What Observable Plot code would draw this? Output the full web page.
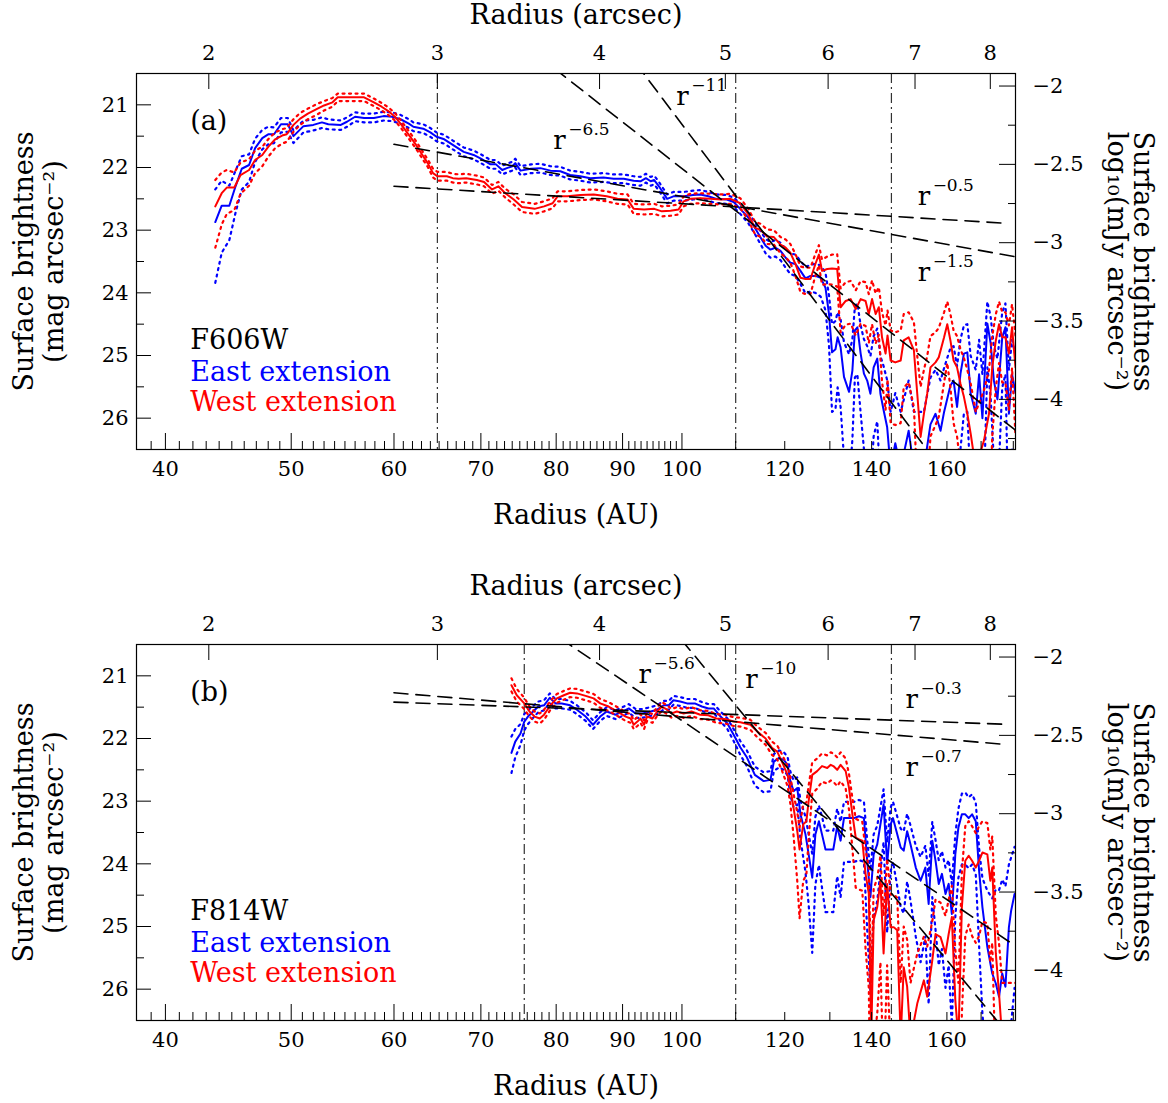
<!DOCTYPE html>
<html><head><meta charset="utf-8">
<script src="https://cdn.jsdelivr.net/npm/d3@7"></script>
<script src="https://cdn.jsdelivr.net/npm/@observablehq/plot@0.6"></script>
<style>
html,body{margin:0;padding:0;background:#fff;overflow:hidden;}
#chart{width:1168px;}
#chart svg{display:block;}
</style></head><body><div id="chart"></div>
<script>
// ---------- constants / tick values ----------
const distancePc = 21.6;          // AU per arcsec
const zeroPointMag = 15.70;       // mag at log10(mJy/arcsec^2) = 0
const xDomainAU = [38, 180.7];
const yDomainMag = [20.5, 26.5];
const auTickLabels = [40, 50, 60, 70, 80, 90, 100, 120, 140, 160];
const auMajorTicks = [40, 50, 60, 70, 80, 90, 100];
const arcsecTicks = [2, 3, 4, 5, 6, 7, 8];
const magTicks = [21, 22, 23, 24, 25, 26];
const magMinorTicks = [21.5, 22.5, 23.5, 24.5, 25.5];
const fluxTicks = [-2, -2.5, -3, -3.5, -4];
const fluxMinorTicks = [-2.25, -2.75, -3.25, -3.75, -4.25];

// ---------- data: [radius AU, mag, upper-dotted offset, lower-dotted offset] ----------
const eastA = [
[43.7,22.87,.52,.97],[44.2,22.61,.40,.75],[44.8,22.61,.32,.55],[45.3,22.30,.25,.42],[45.8,22.02,.20,.33],
[46.4,21.96,.17,.27],[46.9,21.69,.15,.22],[47.5,21.53,.13,.18],[48.0,21.47,.12,.16],[48.5,21.47,.11,.14],
[49.1,21.31,.10,.13],[49.7,21.31,.10,.12],[50.2,21.50,.09,.11],[51.1,21.34,.09,.10],[52.0,21.32,.08,.09],
[52.8,21.28,.08,.09],[53.4,21.31,.08,.08],[54.6,21.32,.07,.08],[55.2,21.27,.07,.08],[56.0,21.19,.07,.07],
[56.9,21.21,.07,.07],[57.9,21.21,.07,.07],[58.9,21.18,.07,.07],[59.8,21.19,.07,.07],[60.7,21.23,.07,.07],
[61.6,21.30,.07,.07],[62.1,21.35,.07,.07],[63.2,21.38,.07,.07],[64.0,21.44,.07,.07],[64.7,21.51,.07,.07],
[65.6,21.55,.07,.07],[66.6,21.64,.07,.07],[67.9,21.75,.07,.07],[69.1,21.80,.07,.07],[70.0,21.86,.07,.07],
[71.2,21.95,.07,.07],[71.9,21.95,.07,.07],[72.7,22.04,.07,.07],[73.3,22.01,.07,.07],[74.0,21.98,.07,.07],
[74.4,21.93,.07,.07],[75.1,22.05,.07,.07],[76.5,22.02,.07,.07],[77.8,22.01,.07,.07],[79.2,22.05,.07,.07],
[80.6,22.06,.07,.07],[82.0,22.12,.07,.07],[83.5,22.14,.07,.07],[85.0,22.17,.07,.07],[87.0,22.16,.07,.07],
[88.6,22.18,.07,.07],[90.2,22.18,.07,.07],[91.8,22.21,.07,.07],[92.9,22.22,.07,.07],[93.8,22.17,.07,.07],
[94.6,22.22,.07,.07],[95.2,22.20,.07,.07],[96.0,22.30,.07,.07],[97.4,22.50,.07,.07],[98.5,22.46,.07,.07],
[100.3,22.46,.07,.07],[102.0,22.44,.07,.07],[103.3,22.43,.07,.07],[104.8,22.46,.07,.07],[106.3,22.50,.07,.07],
[108.3,22.51,.07,.07],[109.6,22.55,.07,.08],[110.9,22.66,.08,.08],[112.5,22.80,.08,.09],[113.8,22.96,.09,.10],
[115.0,23.12,.10,.11],[116.0,23.25,.11,.12],[117.0,23.31,.12,.13],[118.0,23.28,.12,.14],[119.1,23.33,.13,.15],
[120.2,23.44,.14,.16],[121.2,23.52,.15,.18],[122.3,23.54,.15,.19],[123.4,23.65,.16,.21],[124.5,23.77,.18,.24],
[125.6,23.73,.18,.25],[126.7,23.73,.19,.27],[127.9,23.76,.20,.30],[129.0,23.92,.24,.36],[129.8,24.34,.30,.50],
[130.5,24.95,.45,.95],[131.3,24.90,.45,.95],[131.8,24.71,.40,.80],[132.5,24.87,.45,.95],[133.3,25.34,.55,1.3],
[134.5,25.58,.60,1.5],[135.3,25.24,.50,1.1],[135.9,24.60,.38,.75],[136.5,24.55,.38,.75],[137.3,24.97,.45,.95],
[138.1,25.29,.55,1.2],[138.9,25.40,.55,1.3],[139.7,25.61,.60,1.5],[140.5,25.19,.50,1.1],[141.4,25.05,.48,1.0],
[142.2,25.61,.60,1.5],[143.0,25.87,.70,2],[143.9,26.14,.75,2],[144.8,26.80,.90,2],[146.0,26.40,.80,2],
[147.4,26.80,.90,2],[149.5,26.20,.80,2],[150.9,26.80,.90,2],[153.6,26.80,.90,2],[155.4,26.10,.75,2],
[156.8,25.93,.70,2],[158.2,26.20,.80,2],[159.2,25.90,.70,2],[161.0,25.48,.60,1.4],[161.9,25.40,.55,1.3],
[162.9,25.82,.65,2],[163.9,25.29,.55,1.2],[164.9,24.97,.45,.95],[165.9,24.95,.45,.95],[166.9,25.61,.60,1.5],
[168.4,25.93,.70,2],[169.4,25.30,.55,1.2],[170.4,26.00,.70,2],[171.9,24.49,.35,.70],[172.9,24.80,.42,.85],
[173.9,25.40,.55,1.3],[175.0,25.70,.65,1.6],[176.5,24.71,.40,.80],[177.5,24.55,.38,.75],[178.6,25.93,.70,2],
[179.6,25.30,.55,1.2],[180.7,25.60,.60,1.5]
];
const westA = [
[43.7,22.62,.42,.66],[44.2,22.41,.33,.50],[44.6,22.32,.28,.42],[45.2,22.32,.24,.36],[45.7,22.12,.20,.30],
[46.4,22.04,.17,.25],[46.9,21.88,.15,.21],[47.5,21.80,.13,.18],[48.0,21.67,.12,.16],[48.6,21.55,.11,.14],
[49.2,21.49,.10,.13],[49.6,21.47,.10,.12],[50.2,21.32,.09,.11],[50.8,21.22,.09,.10],[51.5,21.14,.08,.09],
[52.3,21.07,.08,.09],[53.0,21.01,.07,.08],[53.8,20.96,.07,.07],[54.3,20.88,.06,.06],[55.7,20.88,.06,.06],
[56.9,20.88,.06,.06],[57.9,20.96,.06,.06],[58.7,21.03,.06,.06],[59.4,21.10,.06,.06],[60.1,21.19,.06,.06],
[60.8,21.32,.06,.06],[61.6,21.48,.06,.06],[62.4,21.64,.06,.06],[63.1,21.80,.06,.06],[63.7,21.93,.06,.06],
[64.3,22.09,.07,.07],[64.8,22.14,.07,.07],[65.9,22.14,.07,.07],[66.6,22.17,.07,.07],[67.3,22.18,.07,.07],
[68.2,22.17,.07,.07],[69.5,22.20,.07,.07],[70.4,22.23,.07,.07],[71.4,22.35,.07,.07],[72.2,22.30,.07,.07],
[73.1,22.41,.07,.07],[74.2,22.51,.08,.08],[75.3,22.63,.08,.08],[77.0,22.66,.08,.08],[78.3,22.62,.08,.08],
[79.5,22.57,.08,.08],[80.2,22.46,.08,.08],[81.6,22.46,.08,.08],[83.5,22.44,.08,.08],[85.5,22.43,.08,.08],
[87.5,22.46,.08,.08],[89.2,22.50,.08,.08],[90.8,22.51,.08,.08],[91.8,22.66,.08,.08],[93.5,22.67,.08,.08],
[95.2,22.66,.08,.08],[96.5,22.70,.08,.08],[98.0,22.69,.08,.08],[99.4,22.67,.08,.08],[100.3,22.54,.08,.08],
[101.5,22.50,.08,.08],[103.3,22.49,.08,.08],[105.2,22.50,.08,.08],[107.1,22.51,.08,.08],[109.0,22.50,.08,.08],
[110.9,22.57,.08,.08],[112.5,22.75,.09,.09],[113.8,22.96,.10,.10],[115.0,23.00,.10,.11],[116.3,23.10,.11,.12],
[117.7,23.11,.11,.12],[119.1,23.23,.12,.14],[120.2,23.28,.13,.15],[121.2,23.36,.14,.16],[122.3,23.54,.16,.19],
[123.4,23.76,.18,.23],[124.5,23.78,.18,.24],[125.6,23.78,.18,.24],[126.7,23.54,.16,.19],[127.5,23.39,.15,.17],
[128.2,23.65,.18,.22],[129.4,23.62,.20,.24],[130.5,23.61,.22,.26],[131.7,23.62,.24,.28],[132.5,24.23,.30,.40],
[133.7,24.13,.30,.38],[134.9,24.10,.29,.39],[136.1,24.26,.30,.42],[137.3,24.10,.29,.39],[138.5,24.13,.30,.40],
[139.3,24.34,.32,.46],[140.1,24.10,.30,.40],[141.0,24.34,.33,.47],[141.8,24.23,.32,.44],[142.6,24.71,.40,.70],
[143.5,24.97,.45,.90],[144.0,24.68,.40,.70],[144.8,25.08,.48,1.0],[146.0,25.11,.48,1.0],[147.4,25.08,.48,1.0],
[148.2,24.76,.42,.75],[149.5,24.71,.40,.72],[150.9,24.92,.45,.90],[151.8,25.61,.60,1.5],[152.7,26.30,.80,2],
[153.6,25.93,.70,2],[154.5,25.61,.60,1.5],[155.4,25.19,.50,1.1],[156.8,25.11,.48,1.0],[157.7,25.03,.47,.95],
[159.2,24.71,.40,.72],[160.1,24.50,.36,.62],[161.0,24.76,.42,.75],[161.9,25.08,.48,1.0],[162.9,25.19,.50,1.1],
[163.9,25.45,.55,1.3],[164.9,25.66,.62,1.6],[165.9,25.93,.70,2],[166.9,26.25,.80,2],[168.4,26.80,.90,2],
[170.9,26.35,.80,2],[172.4,25.93,.70,2],[173.4,25.19,.50,1.1],[174.5,24.76,.42,.75],[175.5,24.50,.36,.62],
[176.5,24.71,.40,.72],[177.5,24.71,.40,.72],[178.6,24.97,.45,.90],[179.6,24.55,.37,.65],[180.7,25.19,.50,1.1]
];
const eastB = [
[73.9,22.23,.26,.32],[74.4,22.05,.20,.25],[75.1,21.92,.15,.18],[75.6,21.73,.12,.14],[76.1,21.65,.10,.12],
[76.8,21.57,.09,.10],[77.5,21.49,.08,.09],[78.3,21.47,.08,.08],[79.1,21.35,.07,.08],[79.9,21.44,.07,.08],
[80.8,21.44,.07,.08],[82.0,21.47,.07,.07],[83.0,21.54,.07,.07],[84.3,21.65,.07,.07],[85.4,21.78,.07,.07],
[86.5,21.65,.07,.07],[87.5,21.57,.07,.07],[88.9,21.62,.07,.07],[90.0,21.57,.07,.07],[91.0,21.52,.07,.07],
[92.1,21.60,.07,.07],[93.2,21.60,.07,.07],[94.6,21.57,.07,.07],[95.7,21.54,.07,.07],[96.8,21.47,.07,.07],
[97.7,21.47,.07,.07],[98.5,21.39,.07,.07],[99.7,21.41,.07,.07],[100.9,21.44,.07,.07],[102.3,21.44,.07,.07],
[103.6,21.49,.07,.07],[104.8,21.52,.07,.07],[105.8,21.52,.07,.07],[107.1,21.65,.08,.08],[108.4,21.76,.08,.09],
[109.6,21.94,.09,.10],[110.9,22.14,.10,.12],[112.2,22.30,.11,.14],[113.8,22.58,.13,.17],[115.6,22.68,.14,.18],
[117.0,22.66,.14,.18],[117.7,22.37,.12,.15],[118.8,22.31,.12,.15],[119.8,22.34,.12,.16],[120.6,22.42,.13,.17],
[121.2,22.68,.15,.22],[121.9,22.84,.17,.26],[122.7,22.79,.17,.26],[123.4,23.21,.22,.40],[124.5,23.53,.28,.60],
[125.2,23.85,.32,.80],[126.0,24.22,.38,1.2],[126.7,23.53,.28,.80],[127.5,23.32,.25,.70],[128.2,23.53,.28,.85],
[129.0,23.77,.30,1.0],[129.8,23.77,.30,1.0],[130.8,23.77,.30,1.0],[131.7,23.40,.28,.80],[132.5,23.63,.30,.90],
[133.3,23.27,.26,.70],[134.5,23.27,.26,.70],[135.7,23.27,.26,.70],[136.9,23.24,.26,.70],[138.1,23.27,.26,.70],
[138.9,23.95,.33,1.1],[139.7,24.53,.42,1.5],[140.5,23.85,.32,1.0],[141.4,23.69,.30,.90],[142.2,23.37,.27,.75],
[143.0,23.05,.24,.60],[143.9,24.00,.34,1.1],[144.8,23.37,.27,.75],[145.4,23.27,.26,.70],[146.3,23.48,.28,.80],
[147.4,23.74,.30,.95],[148.2,23.79,.31,1.0],[149.1,23.48,.28,.80],[150.0,23.69,.30,.90],[151.4,24.06,.35,1.1],
[152.7,24.27,.38,1.3],[154.0,24.06,.35,1.1],[154.9,24.64,.45,1.6],[155.9,23.63,.30,.90],[156.8,23.95,.33,1.1],
[157.7,24.32,.38,1.3],[158.6,24.16,.36,1.2],[159.6,24.48,.42,1.5],[160.5,24.32,.38,1.3],[161.4,24.80,.48,1.8],
[162.4,23.85,.32,1.0],[163.3,23.42,.30,.80],[164.3,23.21,.33,.80],[165.3,23.21,.35,.80],[166.3,23.27,.33,.80],
[167.3,23.21,.32,.80],[168.4,23.32,.30,.85],[169.4,24.11,.36,1.2],[170.4,24.69,.46,1.7],[171.9,25.33,.90,2],
[173.4,25.75,1.2,2],[174.5,25.91,1.5,2],[175.5,26.12,1.7,2],[176.5,25.75,1.5,2],[177.5,25.96,1.6,2],
[178.6,25.01,1.0,2],[179.3,24.75,.85,1.8],[180.4,24.48,.75,1.5]
];
const westB = [
[73.9,21.15,.11,.10],[74.6,21.31,.10,.10],[75.6,21.44,.09,.09],[76.3,21.57,.08,.08],[77.0,21.65,.08,.08],
[77.7,21.68,.08,.08],[78.3,21.62,.08,.08],[79.2,21.47,.07,.07],[80.1,21.36,.07,.07],[81.1,21.31,.07,.07],
[82.0,21.27,.07,.07],[83.0,21.28,.07,.07],[84.3,21.32,.07,.07],[85.5,21.36,.07,.07],[86.5,21.44,.07,.07],
[87.8,21.49,.07,.07],[89.2,21.57,.07,.07],[90.5,21.65,.07,.07],[91.3,21.68,.07,.07],[91.8,21.78,.07,.07],
[92.4,21.73,.07,.07],[92.9,21.68,.07,.07],[93.5,21.78,.07,.07],[94.0,21.65,.07,.07],[94.9,21.68,.07,.07],
[95.7,21.57,.07,.07],[96.5,21.49,.07,.07],[97.4,21.54,.07,.07],[98.2,21.60,.07,.07],[99.1,21.57,.07,.07],
[100.3,21.60,.07,.07],[101.7,21.57,.07,.07],[103.3,21.62,.07,.07],[104.8,21.63,.07,.07],[106.3,21.68,.07,.07],
[107.9,21.69,.07,.07],[109.6,21.73,.07,.07],[110.9,21.74,.07,.07],[112.9,21.78,.08,.08],[114.3,21.89,.08,.09],
[116.0,22.00,.09,.10],[117.3,22.15,.10,.11],[118.4,22.21,.10,.12],[119.4,22.37,.12,.14],[120.6,22.58,.14,.18],
[121.2,22.79,.17,.25],[121.9,23.11,.22,.45],[122.7,23.48,.30,.80],[123.2,23.77,.35,1.1],[124.0,23.37,.32,.90],
[124.7,23.32,.30,.85],[125.2,23.00,.25,.60],[126.0,22.58,.20,.30],[127.1,22.52,.20,.28],[128.2,22.44,.20,.25],
[129.4,22.47,.20,.25],[130.2,22.42,.20,.25],[130.8,22.44,.20,.25],[131.7,22.50,.20,.26],[132.5,22.42,.20,.26],
[133.7,22.52,.20,.28],[134.5,22.79,.22,.35],[135.3,23.21,.26,.55],[136.1,23.58,.30,.80],[136.9,23.61,.30,.80],
[137.7,23.63,.30,.80],[138.5,24.16,.38,1.2],[139.3,24.48,.42,1.5],[139.9,26.80,.90,2],[140.5,24.90,.50,2],
[141.4,24.69,.46,1.7],[142.2,24.27,.40,1.3],[143.0,25.43,.60,2],[143.9,24.32,.40,1.3],[144.8,25.01,.52,2],
[145.6,25.01,.52,2],[146.5,25.06,.52,2],[147.4,26.80,.90,2],[148.2,25.65,.65,2],[149.1,25.96,.75,2],
[150.0,26.80,.90,2],[151.8,26.23,.80,2],[153.6,25.86,.70,2],[154.5,26.12,.80,2],[155.9,25.54,.62,2],
[156.8,25.12,.55,2],[158.2,25.17,.55,2],[159.6,25.43,.60,2],[160.5,25.12,.55,2],[161.4,24.85,.50,1.8],
[162.4,26.17,.80,2],[163.3,26.80,.90,2],[164.3,24.69,.55,1.7],[165.3,23.95,.55,1.2],[166.3,23.87,.55,1.1],
[167.3,23.95,.55,1.2],[168.4,24.06,.55,1.2],[169.4,23.95,.55,1.2],[170.4,23.82,.50,1.1],[171.9,23.85,.50,1.1],
[172.8,24.27,.50,1.3],[173.4,24.06,.50,1.2],[174.5,25.43,.60,2],[175.5,26.07,.80,2],[176.5,26.80,.90,2],
[178.0,26.80,.90,2],[180.7,26.80,.90,2]
];

// power-law fits: mag = m0 + 2.5*alpha*log10(r/r0), drawn from rFrom to rTo
const powerLawsA = [
  {alpha: 0.5, r0: 60,  m0: 22.30, rFrom: 60, rTo: 178},
  {alpha: 1.5, r0: 60,  m0: 21.63, rFrom: 60, rTo: 181},
  {alpha: 6.5, r0: 110, m0: 22.69, rFrom: 75, rTo: 181},
  {alpha: 11,  r0: 110, m0: 22.45, rFrom: 90, rTo: 181}
];
const powerLawsB = [
  {alpha: 0.3, r0: 60,    m0: 21.42, rFrom: 60, rTo: 178},
  {alpha: 0.7, r0: 60,    m0: 21.27, rFrom: 60, rTo: 177.5},
  {alpha: 5.6, r0: 110.3, m0: 22.31, rFrom: 78, rTo: 181},
  {alpha: 10,  r0: 110,   m0: 21.47, rFrom: 95, rTo: 181}
];
// power-law annotation anchors (AU, mag)
const expLabelsA = [
  {r: 79.6, m: 21.71, exp: "−6.5"}, {r: 99.0, m: 21.00, exp: "−11"},
  {r: 151.9, m: 22.60, exp: "−0.5"}, {r: 151.9, m: 23.81, exp: "−1.5"}
];
const expLabelsB = [
  {r: 92.6, m: 21.12, exp: "−5.6"}, {r: 111.9, m: 21.20, exp: "−10"},
  {r: 148.7, m: 21.51, exp: "−0.3"}, {r: 148.7, m: 22.60, exp: "−0.7"}
];
const vLinesA = [64.8, 110, 145];
const vLinesB = [75.6, 110, 145];
const legendA = ["(a)", "F606W", "East extension", "West extension"];
const legendB = ["(b)", "F814W", "East extension", "West extension"];

// ---------- drawing ----------
const BLUE = "#0000ff", RED = "#ff0000";
const FONT = "'DejaVu Serif', serif";
const minorAU = d3.range(38, 100).filter(v => v % 10 !== 0).concat(d3.range(110, 181, 10));
const fmtFlux = v => { const a = Math.round(Math.abs(v) * 100) / 100; return (v < 0 ? "−" : "") + a; };
const fluxToMag = L => zeroPointMag - 2.5 * L;

function rowsOf(arr) { return arr.map(([r, m, u, d]) => ({r, m, up: m - u, dn: m + d})); }
function lawRows(p) {
  return [p.rFrom, p.rTo].map(r => ({r, m: p.m0 + 2.5 * p.alpha * Math.log10(r / p.r0)}));
}

function panel({east, west, laws, labels, vlines, legend, height, marginBottom}) {
  const E = rowsOf(east), W = rowsOf(west);
  const marks = [];
  marks.push(Plot.ruleX(vlines, {stroke: "#333", strokeWidth: 1.2, strokeDasharray: "10,4,2,4"}));
  for (const [R, c] of [[E, BLUE], [W, RED]]) {
    marks.push(Plot.line(R, {x: "r", y: "up", stroke: c, strokeWidth: 2.2, strokeDasharray: "2,4.5", clip: true}));
    marks.push(Plot.line(R, {x: "r", y: "dn", stroke: c, strokeWidth: 2.2, strokeDasharray: "2,4.5", clip: true}));
    marks.push(Plot.line(R, {x: "r", y: "m", stroke: c, strokeWidth: 2, clip: true}));
  }
  for (const p of laws) {
    marks.push(Plot.line(lawRows(p), {x: "r", y: "m", stroke: "black", strokeWidth: 1.6, strokeDasharray: "14,8", clip: true}));
  }
  marks.push(Plot.text(labels, {x: "r", y: "m", text: () => "r", fontSize: 26, textAnchor: "start", lineAnchor: "bottom", fontFamily: FONT}));
  marks.push(Plot.text(labels, {x: "r", y: "m", text: "exp", fontSize: 17, textAnchor: "start", lineAnchor: "bottom", dx: 15, dy: -14, fontFamily: FONT}));
  const legR = 41.8;
  const legRows = [
    {t: legend[0], m: 21.40, c: "black"}, {t: legend[1], m: 24.89, c: "black"},
    {t: legend[2], m: 25.40, c: BLUE}, {t: legend[3], m: 25.89, c: RED}
  ];
  marks.push(Plot.text(legRows, {x: () => legR, y: "m", text: "t", fill: "c", fontSize: 27, textAnchor: "start", lineAnchor: "bottom", fontFamily: FONT}));
  marks.push(Plot.frame({stroke: "black", strokeWidth: 1.2}));
  // bottom axis
  marks.push(Plot.axisX(minorAU, {anchor: "bottom", tickSize: -8, tickFormat: () => "", label: null}));
  marks.push(Plot.axisX(auMajorTicks, {anchor: "bottom", tickSize: -16, tickFormat: () => "", label: null}));
  marks.push(Plot.axisX(auTickLabels, {anchor: "bottom", tickSize: 0, tickPadding: 12, tickFormat: d => String(d), fontSize: 21, fontFamily: FONT, label: null}));
  // top axis (arcsec)
  const arcAU = arcsecTicks.map(a => a * distancePc);
  marks.push(Plot.axisX(arcAU, {anchor: "top", tickSize: -15, tickFormat: () => "", label: null}));
  marks.push(Plot.axisX(arcAU, {anchor: "top", tickSize: 0, tickPadding: 14, tickFormat: d => String(Math.round(d / distancePc)), fontSize: 21, fontFamily: FONT, label: null}));
  // left axis (mag)
  marks.push(Plot.axisY(magTicks, {anchor: "left", tickSize: -15, tickFormat: () => "", label: null}));
  marks.push(Plot.axisY(magMinorTicks, {anchor: "left", tickSize: -8, tickFormat: () => "", label: null}));
  marks.push(Plot.axisY(magTicks, {anchor: "left", tickSize: 0, tickPadding: 8, tickFormat: d => String(d), fontSize: 21, fontFamily: FONT, label: null}));
  // right axis (log flux)
  const fMaj = fluxTicks.map(fluxToMag), fMin = fluxMinorTicks.map(fluxToMag);
  marks.push(Plot.axisY(fMaj, {anchor: "right", tickSize: -17, tickFormat: () => "", label: null}));
  marks.push(Plot.axisY(fMin, {anchor: "right", tickSize: -8, tickFormat: () => "", label: null}));
  marks.push(Plot.axisY(fMaj, {anchor: "right", tickSize: 0, tickPadding: 17, tickFormat: d => fmtFlux((zeroPointMag - d) / 2.5), fontSize: 21, fontFamily: FONT, label: null}));
  // axis titles
  marks.push(Plot.text(["Radius (arcsec)"], {frameAnchor: "top", text: d => d, dy: -50, textAnchor: "middle", lineAnchor: "bottom", fontSize: 27, fontFamily: FONT}));
  marks.push(Plot.text(["Radius (AU)"], {frameAnchor: "bottom", text: d => d, dy: 74, textAnchor: "middle", lineAnchor: "bottom", fontSize: 27, fontFamily: FONT}));
  marks.push(Plot.text(["Surface brightness"], {frameAnchor: "left", text: d => d, rotate: -90, dx: -112, textAnchor: "middle", lineAnchor: "middle", fontSize: 27, fontFamily: FONT}));
  marks.push(Plot.text(["(mag arcsec⁻²)"], {frameAnchor: "left", text: d => d, rotate: -90, dx: -82, textAnchor: "middle", lineAnchor: "middle", fontSize: 27, fontFamily: FONT}));
  marks.push(Plot.text(["Surface brightness"], {frameAnchor: "right", text: d => d, rotate: 90, dx: 127, textAnchor: "middle", lineAnchor: "middle", fontSize: 27, fontFamily: FONT}));
  marks.push(Plot.text(["log₁₀(mJy arcsec⁻²)"], {frameAnchor: "right", text: d => d, rotate: 90, dx: 101, textAnchor: "middle", lineAnchor: "middle", fontSize: 27, fontFamily: FONT}));

  return Plot.plot({
    width: 1168, height, marginTop: 73, marginLeft: 136, marginRight: 153, marginBottom,
    x: {type: "log", domain: xDomainAU, axis: null, label: null},
    y: {domain: yDomainMag, reverse: true, axis: null, label: null},
    style: {fontFamily: FONT, fontSize: "21px", color: "black", background: "white", overflow: "visible"},
    marks
  });
}

const chart = document.getElementById("chart");
chart.appendChild(panel({east: eastA, west: westA, laws: powerLawsA, labels: expLabelsA, vlines: vLinesA, legend: legendA, height: 571, marginBottom: 122}));
chart.appendChild(panel({east: eastB, west: westB, laws: powerLawsB, labels: expLabelsB, vlines: vLinesB, legend: legendB, height: 532, marginBottom: 83}));
</script></body></html>
